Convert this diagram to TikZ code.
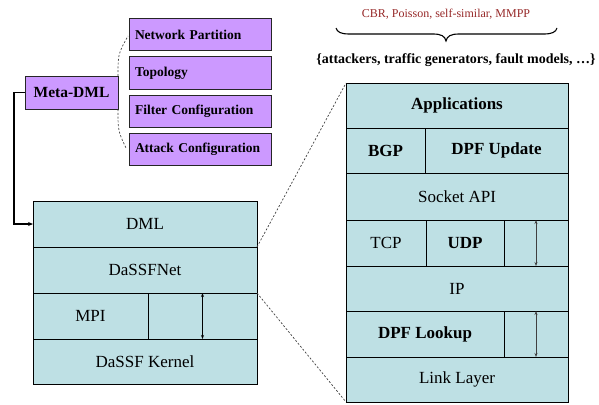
\documentclass[tikz,border=0pt]{standalone}
\usepackage{fontspec}
\setmainfont{Liberation Serif}
\usetikzlibrary{arrows.meta,calc}
\definecolor{purp}{RGB}{204,153,255}
\definecolor{stackc}{RGB}{190,224,228}
\definecolor{tracered}{RGB}{150,40,40}
\begin{document}
\begin{tikzpicture}[x=1pt,y=-1pt,
  sz/.style 2 args={minimum width=#1pt, minimum height=#2pt},
  cellbox/.style={draw=black, line width=0.9pt, fill=stackc, inner sep=0pt, outer sep=0pt,
    anchor=north west, font=\fontsize{17}{19}\selectfont},
  boldcell/.style={cellbox, font=\bfseries\fontsize{17}{19}\selectfont},
  pbox/.style={draw=black!85, line width=1pt, fill=purp, inner ysep=0pt, inner xsep=6pt,
    outer sep=0pt, anchor=north west, minimum height=32pt, text width=130pt, align=left,
    font=\bfseries\fontsize{13.5}{15}\selectfont},
  dashline/.style={draw=black!75, line width=0.7pt, dash pattern=on 2pt off 1.8pt},
  bracestyle/.style={draw=black, line width=1.1pt},
  dblarrow/.style={{Stealth[length=4pt,width=3pt]}-{Stealth[length=4pt,width=3pt]}}
]
\useasboundingbox (0,0) rectangle (599,404);

% top annotation
\node[text=tracered, font=\fontsize{12}{14}\selectfont] (traffic) at (446,14) {CBR, Poisson, self-similar, MMPP};
\node[font=\bfseries\fontsize{14}{16}\selectfont] (models) at (456,60) {\{attackers, traffic generators, fault models, \ldots\}};
\draw[bracestyle] ($(traffic.center)+(-110,14)$)
  .. controls ($(traffic.center)+(-109,18)$) and ($(traffic.center)+(-105,20)$) .. ($(traffic.center)+(-97,20)$)
  -- ($(traffic.center)+(-13,20)$)
  .. controls ($(traffic.center)+(-5,20)$) and ($(traffic.center)+(-1,22)$) .. ($(traffic.center)+(0,27)$)
  .. controls ($(traffic.center)+(1,22)$) and ($(traffic.center)+(5,20)$) .. ($(traffic.center)+(13,20)$)
  -- ($(traffic.center)+(98,20)$)
  .. controls ($(traffic.center)+(106,20)$) and ($(traffic.center)+(110,18)$) .. ($(traffic.center)+(111,14)$);

% Meta-DML and configuration boxes
\node[pbox] (np) at (129,19) {Network Partition};
\node[pbox] (topo) at (129,57) {Topology};
\node[pbox] (filter) at (129,95) {Filter Configuration};
\node[pbox] (attack) at (129,133) {Attack Configuration};
\node[draw=black!85, line width=1pt, fill=purp, inner sep=0pt, outer sep=0pt, anchor=north west,
  sz={93}{33}, font=\bfseries\fontsize{15.5}{17}\selectfont] (meta) at (25,76) {Meta-DML};

\draw[dashline] (meta.north east) .. controls ($(meta.north east)+(0,-22)$) .. ($(np.south west)+(-1,-15)$);
\draw[dashline] (meta.south east) .. controls ($(meta.south east)+(0,22)$) .. ($(attack.west)+(-3,-1)$);

% left stack
\node[cellbox, sz={224}{46}] (dml) at (33,201) {DML};
\node[cellbox, sz={224}{46}] (dassfnet) at (33,247) {DaSSFNet};
\node[cellbox, sz={115}{46}] (mpi) at (33,293) {MPI};
\node[cellbox, sz={109}{46}] (mpiR) at (148,293) {};
\node[cellbox, sz={224}{45}] (kernel) at (33,339) {DaSSF Kernel};
\draw[dblarrow, line width=1.3pt] (mpiR.north) -- (mpiR.south);

\draw[line width=1.2pt, -{Stealth[length=5pt,width=4pt]}] (meta.west) -- ++(-11,0) |- (dml.west);

% right stack
\node[boldcell, sz={222}{45}] (apps) at (346,83) {Applications};
\node[boldcell, sz={79}{45}] (bgp) at (346,128) {BGP};
\node[boldcell, sz={143}{45}] (dpfu) at (425,128) {DPF Update};
\node[cellbox, sz={222}{47}] (socket) at (346,173) {Socket API};
\node[cellbox, sz={80}{46}] (tcp) at (346,220) {TCP};
\node[boldcell, sz={78}{46}] (udp) at (426,220) {UDP};
\node[cellbox, sz={64}{46}] (tcpR) at (504,220) {};
\node[cellbox, sz={222}{45}] (ip) at (346,266) {IP};
\node[boldcell, sz={158}{46}] (dpfl) at (346,311) {DPF Lookup};
\node[cellbox, sz={64}{46}] (dpflR) at (504,311) {};
\node[cellbox, sz={222}{45}] (link) at (346,357) {Link Layer};
\draw[dblarrow, line width=0.9pt, draw=black!75] (tcpR.north) -- (tcpR.south);
\draw[dblarrow, line width=0.9pt, draw=black!75] (dpflR.north) -- (dpflR.south);

% zoom lines
\draw[dashline] (dml.south east) -- (apps.north west);
\draw[dashline] (dassfnet.south east) -- (link.south west);
\end{tikzpicture}
\end{document}
